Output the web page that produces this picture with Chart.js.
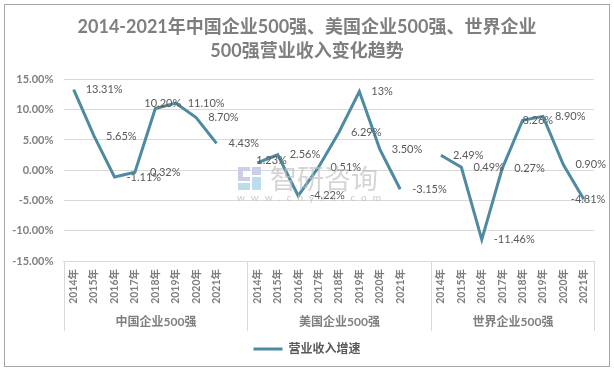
<!DOCTYPE html>
<html><head><meta charset="utf-8">
<style>html,body{margin:0;padding:0;background:#fff}#w{position:relative;width:614px;height:372px}</style>
<script src="https://cdn.jsdelivr.net/npm/chart.js@4"></script>
</head><body><div id="w"><canvas id="c" width="614" height="372"></canvas></div>
<script>
const years = ['2014年','2015年','2016年','2017年','2018年','2019年','2020年','2021年'];
const categories = [...years,'',...years,'',...years];
const groups = ['中国企业500强','美国企业500强','世界企业500强'];
const growth = [13.31,5.65,-1.11,-0.32,10.2,11.1,8.7,4.43,null,
                1.23,2.56,-4.22,0.51,6.29,13,3.5,-3.15,null,
                2.49,0.49,-11.46,0.27,8.26,8.9,0.9,-4.81];
const pointLabels = ['13.31%','5.65%','-1.11%','0.32%','10.20%','11.10%','8.70%','4.43%','',
                     '1.23%','2.56%','-4.22%','0.51%','6.29%','13%','3.50%','-3.15%','',
                     '2.49%','0.49%','-11.46%','0.27%','8.26%','8.90%','0.90%','-4.81%'];
const seriesName = '营业收入增速';
const titleLines = ['2014-2021年中国企业500强、美国企业500强、世界企业','500强营业收入变化趋势'];

const LATIN = 'Lato,"Noto Sans CJK SC",sans-serif';
const labelShift = {3:[3,0],4:[-23,-5],9:[-13,-2],22:[-12,0],25:[-25,0]};

const extras = {
  id:'extras',
  beforeDraw(ch){
    const c=ch.ctx; c.save();
    c.fillStyle='#fff'; c.fillRect(0,0,614,372);
    c.strokeStyle='#a6a6a6'; c.lineWidth=1; c.strokeRect(4.5,4.5,605,362);
    c.restore();
  },
  afterDraw(ch){
    const c=ch.ctx; c.save();
    c.fillStyle='#c9cfe6';
    c.fillRect(238,167,12,4); c.fillRect(238,167,5,14); c.fillRect(238,177,12,4);
    c.fillStyle='#bcdcf0';
    c.fillRect(238,183,12,7); c.fillRect(252,177,9,13);
    c.fillStyle='#c9cfe6'; c.fillRect(252,167,9,8);
    c.textBaseline='middle'; c.textAlign='left';
    c.fillStyle='rgba(190,190,190,.65)'; c.font='27px "Noto Sans CJK SC"';
    c.fillText('智研咨询',270,179);
    c.fillStyle='rgba(190,190,190,.85)'; c.font='10px '+LATIN; c.letterSpacing='6px';
    c.fillText('www.chyxx.com',237,198);
    c.restore();
  },
  afterDatasetsDraw(ch){
    const c=ch.ctx, x=ch.scales.x, y=ch.scales.y; c.save();
    const half=(x.getPixelForValue(1)-x.getPixelForValue(0))/2;
    const bottom=y.bottom, end=331;
    c.strokeStyle='#d9d9d9'; c.lineWidth=1;
    const bounds=[0,9,18,26].map(i=>Math.round(x.getPixelForValue(i)-half)+.5);
    c.beginPath();
    bounds.forEach(b=>{c.moveTo(b,bottom);c.lineTo(b,end);});
    c.stroke();
    c.fillStyle='#7f7f7f'; c.font='bold 12px '+LATIN; c.textAlign='center'; c.textBaseline='middle';
    groups.forEach((g,i)=>c.fillText(g,(bounds[i]+bounds[i+1])/2,322));
    c.fillStyle='#595959'; c.font='11px '+LATIN; c.textAlign='left';
    growth.forEach((v,i)=>{
      if(v===null) return;
      const s=labelShift[i]||[0,0];
      c.fillText(pointLabels[i],x.getPixelForValue(i)+12+s[0],y.getPixelForValue(v)+s[1]);
    });
    c.restore();
  }
};

new Chart(document.getElementById('c'),{
  type:'line',
  data:{labels:categories,datasets:[{label:seriesName,data:growth,borderColor:'#4f8aa3',backgroundColor:'#4f8aa3',
    borderWidth:3,pointRadius:0,tension:0,spanGaps:false}]},
  plugins:[extras],
  options:{
    responsive:false,animation:false,
    layout:{padding:{left:0,right:0,top:15,bottom:7}},
    plugins:{
      title:{display:true,text:titleLines,color:'#7f7f7f',font:{family:LATIN,size:18,weight:'bold',lineHeight:1.333},padding:{top:0,bottom:16.5}},
      legend:{position:'bottom',labels:{usePointStyle:true,pointStyle:'line',pointStyleWidth:29,color:'#595959',font:{family:LATIN,size:12,weight:'bold'},padding:6}},
      tooltip:{enabled:false}
    },
    scales:{
      y:{min:-15,max:15,
        ticks:{stepSize:5,color:'#7f7f7f',font:{family:LATIN,size:11,weight:'bold'},padding:10,callback:v=>v.toFixed(2)+'%'},
        grid:{color:'#d9d9d9',drawTicks:false},border:{display:false},
        afterFit(s){s.width=63.5;}},
      spacer:{position:'right',display:true,min:0,max:1,
        ticks:{display:false},grid:{display:false,drawTicks:false},border:{display:false},
        afterFit(s){s.width=20;}},
      x:{offset:true,grid:{display:false,drawTicks:false},border:{color:'#d9d9d9'},
        ticks:{autoSkip:false,maxRotation:90,minRotation:90,color:'#7f7f7f',font:{family:LATIN,size:10.5,weight:'bold'},padding:8},
        afterFit(s){s.height=76;}}
    }
  }
});
</script></body></html>
